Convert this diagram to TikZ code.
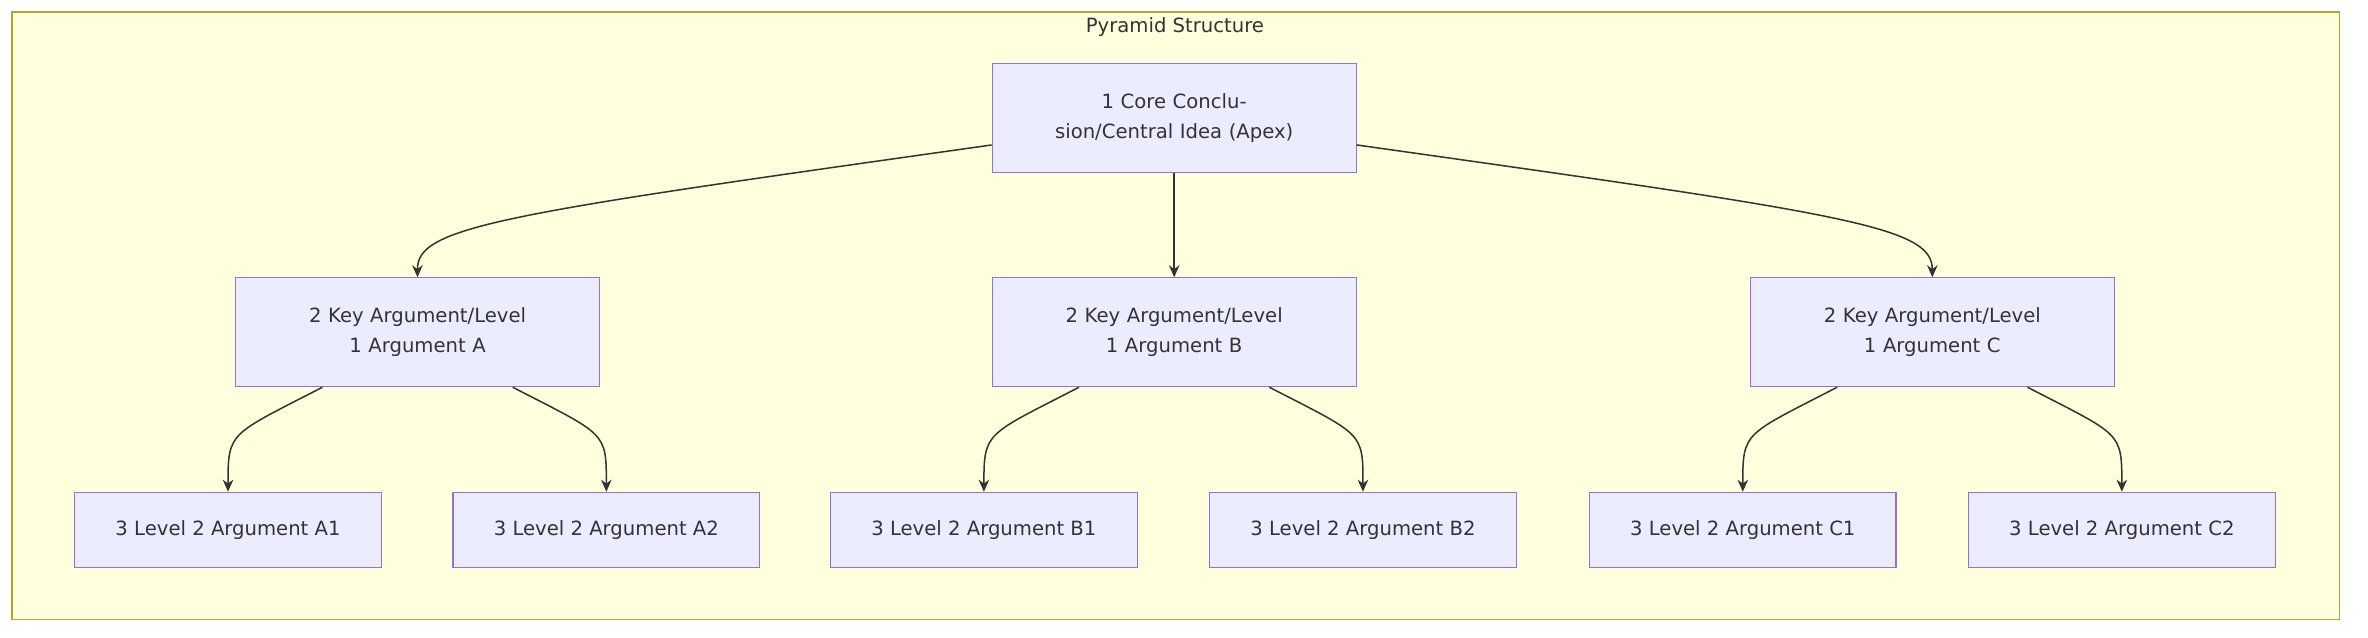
\documentclass[tikz,border=0pt]{standalone}
\usepackage{fontspec}
\setmainfont{DejaVu Sans}
\usetikzlibrary{arrows.meta,calc}
\definecolor{clfill}{HTML}{FFFFDE}
\definecolor{clline}{HTML}{AAAA33}
\definecolor{nfill}{HTML}{ECECFF}
\definecolor{nline}{HTML}{9370DB}
\definecolor{ink}{HTML}{333333}
\begin{document}
\begin{tikzpicture}[x=1pt,y=-1pt,
  box/.style={draw=nline,fill=nfill,line width=0.8pt,font=\fontsize{13}{20}\selectfont,text=ink,align=center,inner sep=0pt},
  big/.style={box,minimum width=241,minimum height=72,text width=200},
  small/.style={box,minimum width=203,minimum height=50},
  edge/.style={draw=ink,line width=1pt,-{Stealth[length=8,width=7]}}]
\useasboundingbox (0,0) rectangle (1568,422);
\draw[clline,fill=clfill,line width=0.8pt] (8,8) rectangle (1549,410);
\node[font=\fontsize{13}{16}\selectfont,text=ink] (title) at (778,18) {Pyramid Structure};
\node[big] (apex) at (777.5,78) {1 Core Conclusion/Central Idea (Apex)};
\node[big] (a) at (276.5,220) {2 Key Argument/Level 1 Argument A};
\node[big] (b) at (777.5,220) {2 Key Argument/Level 1 Argument B};
\node[big] (c) at (1279.5,220) {2 Key Argument/Level 1 Argument C};
\node[small] (a1) at (151,351) {3 Level 2 Argument A1};
\node[small] (a2) at (401.5,351) {3 Level 2 Argument A2};
\node[small] (b1) at (651.5,351) {3 Level 2 Argument B1};
\node[small] (b2) at (902.5,351) {3 Level 2 Argument B2};
\node[small] (c1) at (1154,351) {3 Level 2 Argument C1};
\node[small] (c2) at (1405,351) {3 Level 2 Argument C2};
\draw[edge] ($(apex.west)+(0,18)$) .. controls (330,142) and (276,150) .. (a.north);
\draw[edge] (apex.south) -- (b.north);
\draw[edge] ($(apex.east)+(0,18)$) .. controls (1225,142) and (1279.5,150) .. (c.north);
\foreach \p/\l/\r in {a/a1/a2,b/b1/b2,c/c1/c2}{
  \draw[edge] ($(\p.south)+(-63,0)$) .. controls ($(\p.south)+(-125,32)$) and ($(\l.north)+(0,-40)$) .. (\l.north);
  \draw[edge] ($(\p.south)+(63,0)$) .. controls ($(\p.south)+(125,32)$) and ($(\r.north)+(0,-40)$) .. (\r.north);
}
\end{tikzpicture}
\end{document}
